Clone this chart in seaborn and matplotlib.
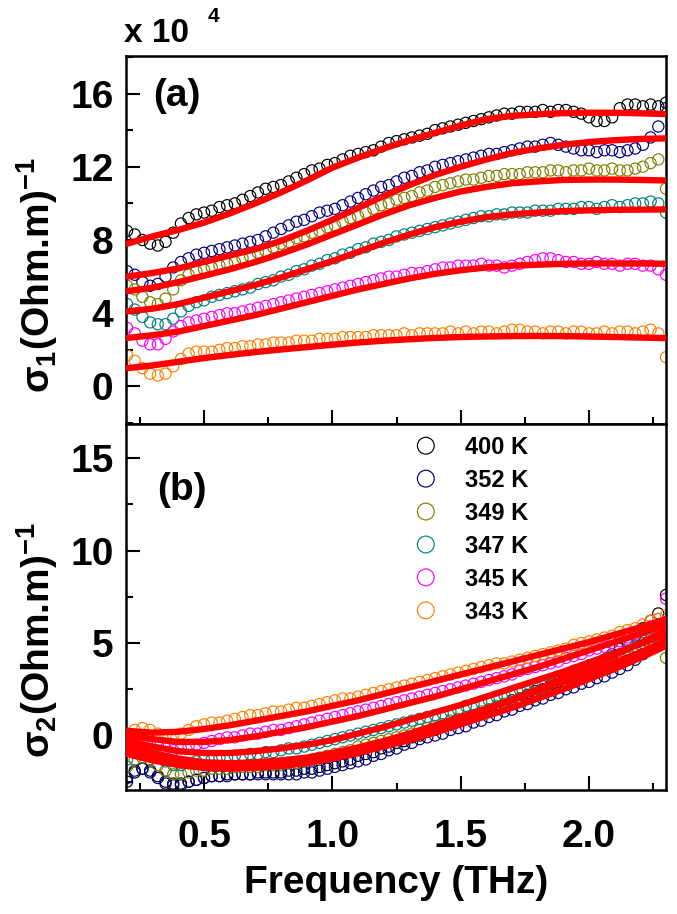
import matplotlib
matplotlib.use("Agg")
import matplotlib.pyplot as plt
import seaborn as sns
from matplotlib.ticker import MultipleLocator

# ---------------- data ----------------
freq = [0.20, 0.23, 0.26, 0.29, 0.32, 0.35, 0.38, 0.41, 0.44, 0.47,
        0.50, 0.53, 0.56, 0.59, 0.62, 0.65, 0.68, 0.71, 0.74, 0.77,
        0.80, 0.83, 0.86, 0.89, 0.92, 0.95, 0.98, 1.01, 1.04, 1.07,
        1.10, 1.13, 1.16, 1.19, 1.22, 1.25, 1.28, 1.31, 1.34, 1.37,
        1.40, 1.43, 1.46, 1.49, 1.52, 1.55, 1.58, 1.61, 1.64, 1.67,
        1.70, 1.73, 1.76, 1.79, 1.82, 1.85, 1.88, 1.91, 1.94, 1.97,
        2.00, 2.03, 2.06, 2.09, 2.12, 2.15, 2.18, 2.21, 2.24, 2.27,
        2.30]

labels = ["400 K", "352 K", "349 K", "347 K", "345 K", "343 K"]

# sigma_1 (x 10^4) measured
s1_400 = [8.5, 8.3, 8.0, 7.8, 7.7, 7.9, 8.4, 8.9, 9.2, 9.4,
          9.5, 9.6, 9.8, 9.9, 10.0, 10.2, 10.4, 10.6, 10.8, 10.9,
          11.0, 11.2, 11.4, 11.6, 11.8, 11.9, 12.1, 12.2, 12.4, 12.6,
          12.7, 12.8, 12.9, 13.1, 13.3, 13.4, 13.5, 13.6, 13.7, 13.8,
          14.0, 14.1, 14.2, 14.3, 14.4, 14.5, 14.6, 14.7, 14.8, 14.9,
          14.9, 15.0, 15.0, 15.0, 15.1, 15.0, 15.1, 15.1, 15.0, 14.9,
          14.7, 14.5, 14.5, 14.7, 15.2, 15.4, 15.4, 15.3, 15.4, 15.3,
          15.5]
s1_352 = [6.3, 6.1, 5.7, 5.5, 5.6, 6.0, 6.5, 6.8, 7.0, 7.2,
          7.3, 7.4, 7.5, 7.6, 7.7, 7.8, 7.9, 8.0, 8.2, 8.4,
          8.6, 8.8, 9.0, 9.1, 9.3, 9.5, 9.6, 9.7, 9.9, 10.1,
          10.3, 10.5, 10.7, 10.9, 11.0, 11.2, 11.4, 11.5, 11.7, 11.8,
          12.0, 12.1, 12.2, 12.3, 12.4, 12.5, 12.6, 12.7, 12.7, 12.8,
          12.9, 13.0, 13.1, 13.1, 13.2, 13.3, 13.2, 13.1, 13.0, 12.9,
          12.9, 12.8, 12.9, 12.9, 12.8, 12.9, 13.0, 13.2, 13.6, 14.2,
          15.2]
s1_349 = [5.5, 5.3, 4.9, 4.6, 4.5, 4.8, 5.3, 5.8, 6.1, 6.3,
          6.4, 6.5, 6.6, 6.7, 6.8, 7.0, 7.1, 7.3, 7.4, 7.6,
          7.8, 7.9, 8.1, 8.2, 8.4, 8.5, 8.7, 8.8, 9.0, 9.2,
          9.3, 9.5, 9.7, 9.9, 10.0, 10.2, 10.3, 10.4, 10.6, 10.7,
          10.9, 11.0, 11.1, 11.2, 11.3, 11.3, 11.4, 11.5, 11.5, 11.6,
          11.6, 11.6, 11.7, 11.7, 11.7, 11.8, 11.8, 11.7, 11.8, 11.8,
          11.9, 11.8, 11.8, 11.9, 11.8, 11.8, 11.9, 12.0, 12.2, 12.4,
          10.8]
s1_347 = [4.5, 4.2, 3.8, 3.5, 3.4, 3.4, 3.7, 4.1, 4.4, 4.6,
          4.7, 4.9, 5.0, 5.1, 5.2, 5.3, 5.4, 5.6, 5.7, 5.8,
          6.0, 6.1, 6.3, 6.4, 6.6, 6.7, 6.9, 7.0, 7.2, 7.3,
          7.5, 7.6, 7.8, 7.9, 8.0, 8.2, 8.3, 8.4, 8.5, 8.6,
          8.7, 8.8, 8.9, 9.0, 9.1, 9.2, 9.3, 9.3, 9.4, 9.4,
          9.5, 9.5, 9.5, 9.6, 9.6, 9.6, 9.7, 9.7, 9.7, 9.8,
          9.8, 9.7, 9.8, 9.9, 9.8, 9.9, 10.0, 10.0, 10.1, 10.0,
          9.5]
s1_345 = [3.2, 2.9, 2.5, 2.3, 2.3, 2.6, 3.0, 3.3, 3.5, 3.6,
          3.7, 3.8, 3.9, 4.0, 4.0, 4.1, 4.2, 4.3, 4.4, 4.5,
          4.6, 4.7, 4.8, 4.9, 5.0, 5.1, 5.2, 5.3, 5.4, 5.5,
          5.6, 5.7, 5.8, 5.9, 6.0, 6.0, 6.1, 6.2, 6.2, 6.3,
          6.4, 6.5, 6.5, 6.6, 6.6, 6.6, 6.7, 6.6, 6.6, 6.5,
          6.6, 6.7, 6.8, 6.9, 7.0, 7.0, 6.9, 6.8, 6.8, 6.7,
          6.7, 6.8, 6.7, 6.7, 6.6, 6.7, 6.7, 6.6, 6.6, 6.4,
          6.1]
s1_343 = [1.7, 1.4, 1.0, 0.7, 0.6, 0.7, 1.1, 1.5, 1.8, 1.9,
          1.9, 1.9, 2.0, 2.1, 2.1, 2.2, 2.2, 2.3, 2.3, 2.4,
          2.4, 2.4, 2.5, 2.5, 2.5, 2.6, 2.6, 2.6, 2.7, 2.7,
          2.7, 2.7, 2.8, 2.8, 2.8, 2.8, 2.9, 2.8, 2.9, 2.9,
          2.9, 2.9, 3.0, 2.9, 3.0, 2.9, 3.0, 3.0, 2.9, 3.0,
          3.1, 3.1, 3.0, 3.0, 2.9, 3.0, 3.0, 2.9, 3.0, 3.0,
          2.9, 2.9, 3.0, 2.9, 3.0, 3.0, 2.9, 3.0, 3.1, 2.9,
          1.6]

# sigma_2 (x 10^4) measured
s2_400 = [-2.5, -2.0, -1.8, -1.9, -2.2, -2.5, -2.6, -2.6, -2.5, -2.4,
          -2.3, -2.2, -2.2, -2.1, -2.1, -2.1, -2.1, -2.0, -2.0, -2.0,
          -2.0, -1.9, -1.9, -1.8, -1.8, -1.7, -1.6, -1.5, -1.4, -1.3,
          -1.1, -1.0, -0.9, -0.7, -0.6, -0.4, -0.3, -0.1, 0.0, 0.2,
          0.3, 0.5, 0.6, 0.8, 0.9, 1.1, 1.2, 1.4, 1.5, 1.7,
          1.9, 2.0, 2.2, 2.4, 2.5, 2.7, 2.9, 3.1, 3.3, 3.5,
          3.7, 3.9, 4.1, 4.4, 4.7, 5.0, 5.4, 5.8, 6.2, 6.6,
          7.6]
s2_352 = [-2.3, -1.9, -1.8, -2.0, -2.3, -2.6, -2.7, -2.7, -2.5, -2.4,
          -2.3, -2.2, -2.2, -2.2, -2.1, -2.1, -2.1, -2.1, -2.1, -2.1,
          -2.1, -2.1, -2.1, -2.0, -2.0, -1.9, -1.8, -1.7, -1.6, -1.5,
          -1.4, -1.3, -1.1, -1.0, -0.8, -0.7, -0.5, -0.4, -0.2, -0.1,
          0.0, 0.1, 0.3, 0.4, 0.5, 0.7, 0.8, 1.0, 1.1, 1.3,
          1.4, 1.6, 1.7, 1.9, 2.0, 2.2, 2.3, 2.5, 2.6, 2.8,
          2.9, 3.1, 3.2, 3.4, 3.6, 3.8, 4.1, 4.4, 4.8, 5.2,
          5.6]
s2_349 = [-1.7, -1.3, -1.2, -1.3, -1.6, -1.9, -2.1, -2.1, -2.0, -1.9,
          -1.9, -1.8, -1.8, -1.8, -1.7, -1.7, -1.7, -1.7, -1.6, -1.6,
          -1.6, -1.5, -1.5, -1.4, -1.3, -1.2, -1.1, -1.0, -0.9, -0.8,
          -0.6, -0.5, -0.4, -0.3, -0.2, -0.1, 0.0, 0.1, 0.3, 0.4,
          0.5, 0.6, 0.8, 0.9, 1.0, 1.1, 1.3, 1.4, 1.6, 1.7,
          1.8, 2.0, 2.1, 2.3, 2.4, 2.6, 2.7, 2.9, 3.0, 3.2,
          3.3, 3.5, 3.7, 3.8, 4.0, 4.2, 4.4, 4.6, 4.8, 4.9,
          4.2]
s2_347 = [-1.3, -0.9, -0.8, -0.9, -1.2, -1.4, -1.6, -1.6, -1.5, -1.4,
          -1.3, -1.3, -1.2, -1.2, -1.1, -1.1, -1.0, -1.0, -0.9, -0.9,
          -0.8, -0.7, -0.7, -0.6, -0.5, -0.4, -0.3, -0.2, -0.1, 0.0,
          0.1, 0.2, 0.3, 0.4, 0.5, 0.6, 0.7, 0.8, 0.9, 1.0,
          1.1, 1.2, 1.3, 1.4, 1.6, 1.7, 1.8, 1.9, 2.1, 2.2,
          2.3, 2.5, 2.6, 2.7, 2.9, 3.0, 3.2, 3.3, 3.5, 3.6,
          3.8, 3.9, 4.1, 4.3, 4.4, 4.6, 4.8, 5.0, 5.2, 5.4,
          5.6]
s2_345 = [-0.6, -0.3, -0.2, -0.3, -0.5, -0.7, -0.8, -0.7, -0.6, -0.5,
          -0.4, -0.3, -0.2, -0.1, -0.1, 0.0, 0.1, 0.1, 0.2, 0.3,
          0.3, 0.4, 0.5, 0.6, 0.7, 0.8, 0.9, 1.0, 1.1, 1.2,
          1.3, 1.4, 1.5, 1.6, 1.7, 1.8, 1.9, 2.0, 2.1, 2.2,
          2.3, 2.4, 2.5, 2.6, 2.7, 2.8, 2.9, 3.0, 3.1, 3.2,
          3.3, 3.5, 3.6, 3.7, 3.8, 3.9, 4.0, 4.2, 4.3, 4.4,
          4.6, 4.7, 4.8, 5.0, 5.1, 5.3, 5.5, 5.7, 5.9, 6.3,
          7.4]
s2_343 = [0.1, 0.3, 0.4, 0.3, 0.1, 0.0, 0.0, 0.1, 0.3, 0.5,
          0.6, 0.7, 0.7, 0.8, 0.9, 1.0, 1.1, 1.1, 1.2, 1.3,
          1.3, 1.4, 1.5, 1.5, 1.6, 1.7, 1.8, 1.9, 2.0, 2.0,
          2.1, 2.2, 2.3, 2.4, 2.5, 2.6, 2.7, 2.8, 2.9, 3.0,
          3.1, 3.2, 3.3, 3.4, 3.5, 3.6, 3.7, 3.8, 3.9, 3.9,
          4.0, 4.1, 4.2, 4.3, 4.4, 4.5, 4.6, 4.7, 4.9, 5.0,
          5.1, 5.2, 5.3, 5.4, 5.6, 5.7, 5.8, 6.0, 6.2, 6.3,
          6.5]

# fitted curves
fit_freq = [0.2, 0.3, 0.4, 0.5, 0.6, 0.7, 0.8, 0.9, 1.0, 1.1, 1.2,
            1.3, 1.4, 1.5, 1.6, 1.7, 1.8, 1.9, 2.0, 2.1, 2.2, 2.3]
f1_400 = [7.8, 8.2, 8.55, 8.95, 9.45, 10.0, 10.6, 11.25, 11.95, 12.5, 13.0,
          13.45, 13.85, 14.25, 14.6, 14.78, 14.87, 14.93, 14.95, 14.95, 14.92, 14.88]
f1_352 = [6.0, 6.2, 6.45, 6.8, 7.15, 7.5, 7.95, 8.5, 9.1, 9.75, 10.4,
          11.0, 11.55, 12.0, 12.4, 12.75, 13.0, 13.2, 13.35, 13.45, 13.52, 13.55]
f1_349 = [5.2, 5.4, 5.7, 6.05, 6.4, 6.8, 7.25, 7.75, 8.3, 8.85, 9.4,
          9.9, 10.3, 10.65, 10.9, 11.1, 11.2, 11.28, 11.3, 11.3, 11.28, 11.25]
f1_347 = [4.1, 4.25, 4.5, 4.85, 5.2, 5.55, 5.95, 6.4, 6.85, 7.35, 7.85,
          8.3, 8.7, 9.0, 9.25, 9.4, 9.5, 9.58, 9.62, 9.65, 9.66, 9.67]
f1_345 = [2.65, 2.8, 3.0, 3.3, 3.6, 3.9, 4.25, 4.6, 4.95, 5.3, 5.6,
          5.9, 6.15, 6.35, 6.5, 6.6, 6.65, 6.7, 6.72, 6.72, 6.72, 6.7]
f1_343 = [1.0, 1.15, 1.35, 1.55, 1.72, 1.88, 2.02, 2.15, 2.28, 2.4, 2.5,
          2.58, 2.65, 2.7, 2.73, 2.75, 2.76, 2.75, 2.73, 2.7, 2.67, 2.64]

f2_400 = [-1.0, -1.35, -1.6, -1.75, -1.8, -1.75, -1.65, -1.5, -1.25, -0.9, -0.5,
          -0.05, 0.4, 0.9, 1.4, 1.95, 2.5, 3.1, 3.7, 4.35, 5.0, 5.7]
f2_352 = [-0.8, -1.2, -1.5, -1.65, -1.7, -1.7, -1.6, -1.45, -1.25, -0.95, -0.6,
          -0.25, 0.15, 0.6, 1.05, 1.5, 2.0, 2.5, 3.05, 3.6, 4.2, 4.85]
f2_349 = [-0.55, -0.95, -1.25, -1.45, -1.5, -1.45, -1.35, -1.2, -0.95, -0.65, -0.3,
          0.1, 0.55, 1.0, 1.45, 1.9, 2.4, 2.9, 3.4, 3.95, 4.5, 5.1]
f2_347 = [-0.3, -0.6, -0.85, -0.95, -0.95, -0.85, -0.7, -0.5, -0.25, 0.1, 0.45,
          0.85, 1.25, 1.65, 2.1, 2.55, 3.0, 3.45, 3.95, 4.45, 4.95, 5.45]
f2_345 = [0.0, -0.2, -0.35, -0.35, -0.25, -0.05, 0.2, 0.45, 0.75, 1.05, 1.4,
          1.75, 2.1, 2.5, 2.9, 3.3, 3.7, 4.15, 4.6, 5.05, 5.5, 6.0]
f2_343 = [0.25, 0.15, 0.2, 0.35, 0.55, 0.8, 1.05, 1.3, 1.6, 1.9, 2.25,
          2.6, 2.95, 3.3, 3.65, 4.0, 4.35, 4.7, 5.05, 5.45, 5.85, 6.3]

sigma1 = [s1_400, s1_352, s1_349, s1_347, s1_345, s1_343]
sigma2 = [s2_400, s2_352, s2_349, s2_347, s2_345, s2_343]
fit1 = [f1_400, f1_352, f1_349, f1_347, f1_345, f1_343]
fit2 = [f2_400, f2_352, f2_349, f2_347, f2_345, f2_343]
colors = ["#000000", "#000080", "#808000", "#008080", "#FF00FF", "#FF8000"]

# ---------------- style ----------------
sns.set_style("ticks")
plt.rcParams["font.family"] = ["Liberation Sans", "DejaVu Sans"]
plt.rcParams["font.weight"] = "bold"
plt.rcParams["text.color"] = "black"
plt.rcParams["axes.labelcolor"] = "black"
plt.rcParams["xtick.color"] = "black"
plt.rcParams["ytick.color"] = "black"
plt.rcParams["mathtext.fontset"] = "custom"
plt.rcParams["mathtext.rm"] = "Liberation Sans:bold"
plt.rcParams["mathtext.bf"] = "Liberation Sans:bold"
plt.rcParams["mathtext.it"] = "Liberation Sans:bold"
plt.rcParams["mathtext.sf"] = "Liberation Sans:bold"

W, H = 677, 914
fig = plt.figure(figsize=(W / 100, H / 100), dpi=100)
L, R = 126, 666
T1, MID, B2 = 56, 424, 790
ax1 = fig.add_axes([L / W, 1 - MID / H, (R - L) / W, (MID - T1) / H])
ax2 = fig.add_axes([L / W, 1 - B2 / H, (R - L) / W, (B2 - MID) / H], sharex=ax1)

for ax, data, fits, lab in [(ax1, sigma1, fit1, False), (ax2, sigma2, fit2, True)]:
    for vals, c, name in zip(data, colors, labels):
        sns.scatterplot(x=freq, y=vals, ax=ax, marker="o", s=65, color=c,
                        facecolor="none", edgecolor=c, linewidth=0.85,
                        label=name if lab else None, legend=False, zorder=2)
    for fv in fits:
        sns.lineplot(x=fit_freq, y=fv, ax=ax, color="#FF0000", linewidth=4.6,
                     estimator=None, sort=False, legend=False, zorder=3)

ax1.set_xlim(0.196, 2.30)
ax1.set_ylim(-2.05, 18.05)
ax2.set_ylim(-2.95, 16.85)

ax1.set_yticks([0, 4, 8, 12, 16])
ax1.yaxis.set_minor_locator(MultipleLocator(2))
ax2.set_yticks([0, 5, 10, 15])
ax2.yaxis.set_minor_locator(MultipleLocator(2.5))
ax2.set_xticks([0.5, 1.0, 1.5, 2.0])
ax2.xaxis.set_minor_locator(MultipleLocator(0.25))

for ax in (ax1, ax2):
    ax.tick_params(which="major", direction="in", length=10, width=1.5,
                   labelsize=28, top=False, right=False, color="black",
                   labelcolor="black")
    ax.tick_params(which="minor", direction="in", length=5, width=1.5,
                   top=False, right=False, color="black")
    ax.tick_params(axis="y", pad=9)
    ax.tick_params(axis="x", pad=21)
    for sp in ax.spines.values():
        sp.set_linewidth(1.8)
        sp.set_color("black")
ax1.tick_params(labelbottom=False)

ax1.set_ylabel(r"$\mathrm{\sigma}_1$(Ohm.m)$^{-1}$", fontsize=28, fontweight="bold")
ax2.set_ylabel(r"$\mathrm{\sigma}_2$(Ohm.m)$^{-1}$", fontsize=28, fontweight="bold")
ax1.yaxis.set_label_coords(-0.122, 0.405)
ax2.yaxis.set_label_coords(-0.122, 0.41)
ax2.set_xlabel("Frequency (THz)", fontsize=28, fontweight="bold", labelpad=7)
ax1.set_xlabel("")

ax1.text((153 - L) / (R - L), (MID - 96) / (MID - T1), "(a)", transform=ax1.transAxes,
         fontsize=28, fontweight="bold", ha="left", va="center")
ax2.text((157 - L) / (R - L), (B2 - 490) / (B2 - MID), "(b)", transform=ax2.transAxes,
         fontsize=28, fontweight="bold", ha="left", va="center")

fig.text(124 / W, 1 - 42 / H, "x 10", fontsize=24, fontweight="bold",
         ha="left", va="baseline")
fig.text(208 / W, 1 - 22 / H, "4", fontsize=15, fontweight="bold",
         ha="left", va="baseline")

leg = ax2.legend(loc="upper left", bbox_to_anchor=((414 - L) / (R - L), (B2 - 436) / (B2 - MID)),
                 frameon=False, fontsize=17, handlelength=1.0, handletextpad=1.15,
                 labelspacing=0.42, borderaxespad=0, borderpad=0, markerscale=1.5,
                 scatteryoffsets=[0.5])
for t in leg.get_texts():
    t.set_fontweight("bold")
    t.set_color("black")

fig.savefig("out.png", dpi=100)
